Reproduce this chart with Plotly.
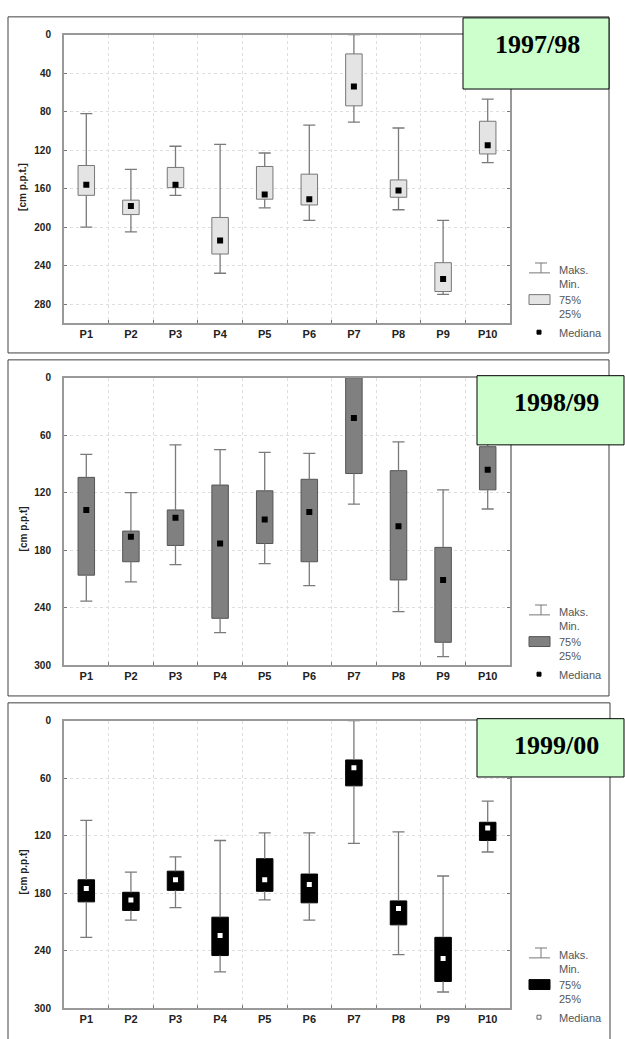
import plotly.graph_objects as go

W, H = 625, 1039

categories = ["P1", "P2", "P3", "P4", "P5", "P6", "P7", "P8", "P9", "P10"]

# 1997/98  (values in cm below ground surface)
max_9798 = [82, 140, 116, 114, 123, 94, 0, 97, 193, 67]
q75_9798 = [136, 172, 138, 190, 137, 145, 20, 151, 237, 90]
med_9798 = [156, 178, 156, 214, 166, 171, 54, 162, 254, 115]
q25_9798 = [167, 187, 159, 228, 171, 177, 74, 169, 267, 124]
min_9798 = [200, 205, 167, 248, 180, 193, 91, 182, 270, 133]

# 1998/99
max_9899 = [80, 120, 70, 75, 78, 79, 0, 67, 117, 68]
q75_9899 = [104, 160, 138, 112, 118, 106, 0, 97, 177, 72]
med_9899 = [138, 166, 146, 173, 148, 140, 42, 155, 211, 96]
q25_9899 = [206, 192, 175, 251, 173, 192, 100, 211, 276, 117]
min_9899 = [233, 213, 195, 266, 194, 217, 132, 244, 291, 137]

# 1999/00
max_9900 = [104, 158, 142, 125, 117, 117, 0, 116, 162, 84]
q75_9900 = [166, 179, 157, 205, 144, 160, 41, 188, 226, 106]
med_9900 = [175, 187, 166, 224, 166, 171, 49, 196, 248, 112]
q25_9900 = [189, 198, 177, 245, 178, 190, 68, 213, 272, 125]
min_9900 = [226, 208, 195, 262, 187, 208, 128, 244, 283, 137]

titles = ["1997/98", "1998/99", "1999/00"]
ytitles = ["[cm p.p.t.]", "[cm p.p.t]", "[cm p.p.t]"]
yticks_list = [[0, 40, 80, 120, 160, 200, 240, 280],
               [0, 60, 120, 180, 240, 300],
               [0, 60, 120, 180, 240, 300]]
legend_labels = ["Maks.", "Min.", "75%", "25%", "Mediana"]

def px(x):
    return x / W

def py(y):
    return 1 - y / H

panels = [
    dict(mx=max_9798, qt=q75_9798, md=med_9798, qb=q25_9798, mn=min_9798,
         plot=(64, 29, 510, 321), frame=(8, 11, 609, 351),
         tbox=(463, 12, 609, 84), tcenter=(537, 39),
         fill="#e4e4e4", bline="#777777", medc="#000000", meds=6),
    dict(mx=max_9899, qt=q75_9899, md=med_9899, qb=q25_9899, mn=min_9899,
         plot=(64, 376, 510, 667), frame=(8, 358, 609, 698),
         tbox=(477, 374, 624, 444), tcenter=(556, 401),
         fill="#808080", bline="#555555", medc="#000000", meds=6),
    dict(mx=max_9900, qt=q75_9900, md=med_9900, qb=q25_9900, mn=min_9900,
         plot=(64, 723, 510, 1014), frame=(8, 705, 610, 1050),
         tbox=(477, 721, 624, 780), tcenter=(556, 748),
         fill="#000000", bline="#000000", medc="#ffffff", meds=5),
]

fig = go.Figure()
shapes = []
annotations = []
layout_axes = {}
FONT = "Arial, Liberation Sans, sans-serif"
xpos = list(range(1, len(categories) + 1))
cap = 0.135

for k, p in enumerate(panels):
    sfx = "" if k == 0 else str(k + 1)
    xa, ya = "x" + sfx, "y" + sfx
    x0, y0, x1, y1 = p["plot"]

    # whiskers
    wx, wy = [], []
    for i, xi in enumerate(xpos):
        wx += [xi, xi, None, xi, xi, None,
               xi - cap, xi + cap, None, xi - cap, xi + cap, None]
        wy += [p["mx"][i], p["qt"][i], None, p["qb"][i], p["mn"][i], None,
               p["mx"][i], p["mx"][i], None, p["mn"][i], p["mn"][i], None]
    fig.add_trace(go.Scatter(x=wx, y=wy, mode="lines", xaxis=xa, yaxis=ya,
                             line=dict(color="#7a7a7a", width=1.3),
                             hoverinfo="skip", cliponaxis=False))
    # boxes
    fig.add_trace(go.Bar(x=xpos, y=[b - t for t, b in zip(p["qt"], p["qb"])],
                         base=p["qt"], width=0.37, xaxis=xa, yaxis=ya,
                         marker=dict(color=p["fill"], line=dict(color=p["bline"], width=1))))
    # medians
    fig.add_trace(go.Scatter(x=xpos, y=p["md"], mode="markers", xaxis=xa, yaxis=ya,
                             marker=dict(symbol="square", size=p["meds"], color=p["medc"],
                                         line=dict(width=0))))

    layout_axes["xaxis" + sfx] = dict(
        domain=[px(x0), px(x1)], anchor=ya, range=[0.5, 10.5],
        tickmode="array", tickvals=xpos, ticktext=categories,
        showgrid=False, zeroline=False, showline=True, linecolor="#999999",
        linewidth=2, mirror=True, ticks="",
        tickfont=dict(family=FONT, size=11, color="#222222", weight="bold"),
        minor=dict(tickvals=[x + 0.5 for x in xpos[:-1]], showgrid=True,
                   gridcolor="#dedede", griddash="dot", gridwidth=1,
                   ticks="inside", ticklen=3, tickcolor="#777777"),
    )
    layout_axes["yaxis" + sfx] = dict(
        domain=[py(y1), py(y0)], anchor=xa, range=[300, 0],
        tickmode="array", tickvals=yticks_list[k],
        showgrid=True, gridcolor="#dedede", griddash="dot", gridwidth=1,
        zeroline=False, showline=True, linecolor="#999999", linewidth=2,
        mirror="ticks", ticks="inside", ticklen=3, tickcolor="#777777",
        ticklabelstandoff=9,
        tickfont=dict(family=FONT, size=10, color="#222222", weight="bold"),
    )

    # panel frame
    fx0, fy0, fx1, fy1 = p["frame"]
    shapes.append(dict(type="rect", xref="paper", yref="paper",
                       x0=px(fx0), x1=px(fx1), y0=py(fy1), y1=py(fy0),
                       line=dict(color="#404040", width=1), fillcolor="rgba(0,0,0,0)"))
    # title box
    tx0, ty0, tx1, ty1 = p["tbox"]
    shapes.append(dict(type="rect", xref="paper", yref="paper",
                       x0=px(tx0), x1=px(tx1), y0=py(ty1), y1=py(ty0),
                       line=dict(color="#000000", width=1), fillcolor="#ccffcc"))
    annotations.append(dict(text="<b>" + titles[k] + "</b>", xref="paper", yref="paper",
                            x=px(p["tcenter"][0]), y=py(p["tcenter"][1]),
                            showarrow=False, xanchor="center", yanchor="middle",
                            font=dict(family="Times New Roman, Liberation Serif, serif",
                                      size=26, color="#000000")))
    # y axis title
    annotations.append(dict(text="<b>" + ytitles[k] + "</b>", xref="paper", yref="paper",
                            x=px(23), y=py((y0 + y1) / 2 + 8), textangle=-90,
                            showarrow=False, xanchor="center", yanchor="middle",
                            font=dict(family=FONT, size=10, color="#222222")))

    # legend (manual)
    lb = y1
    shapes.append(dict(type="line", xref="paper", yref="paper",
                       x0=px(535), x1=px(547), y0=py(lb - 61), y1=py(lb - 61),
                       line=dict(color="#777777", width=1)))
    shapes.append(dict(type="line", xref="paper", yref="paper",
                       x0=px(541), x1=px(541), y0=py(lb - 61), y1=py(lb - 51),
                       line=dict(color="#777777", width=1)))
    shapes.append(dict(type="line", xref="paper", yref="paper",
                       x0=px(529), x1=px(550), y0=py(lb - 51), y1=py(lb - 51),
                       line=dict(color="#777777", width=1)))
    shapes.append(dict(type="rect", xref="paper", yref="paper",
                       x0=px(529), x1=px(550), y0=py(lb - 19), y1=py(lb - 29),
                       line=dict(color=p["bline"] if k < 2 else "#000000", width=1),
                       fillcolor=p["fill"]))
    shapes.append(dict(type="rect", xref="paper", yref="paper",
                       x0=px(537), x1=px(541), y0=py(lb + 7), y1=py(lb + 11),
                       line=dict(color="#000000" if k < 2 else "#666666", width=1),
                       fillcolor="#000000" if k < 2 else "#ffffff"))
    offs = [-54, -40, -24, -9, 10]
    for lab, o in zip(legend_labels, offs):
        annotations.append(dict(text=lab, xref="paper", yref="paper",
                                x=px(557), y=py(lb + o), showarrow=False,
                                xanchor="left", yanchor="middle",
                                font=dict(family=FONT, size=11, color="#555555")))

fig.update_layout(
    width=W, height=H, margin=dict(l=0, r=0, t=0, b=0),
    paper_bgcolor="#ffffff", plot_bgcolor="#ffffff",
    showlegend=False, barmode="overlay", hovermode=False,
    shapes=shapes, annotations=annotations,
    **layout_axes,
)

fig.write_html("out.html",
               config={"displayModeBar": False, "staticPlot": True},
               post_script="document.body.style.margin='0px';"
                           "document.documentElement.style.overflow='hidden';"
                           "document.body.style.overflow='hidden';")
